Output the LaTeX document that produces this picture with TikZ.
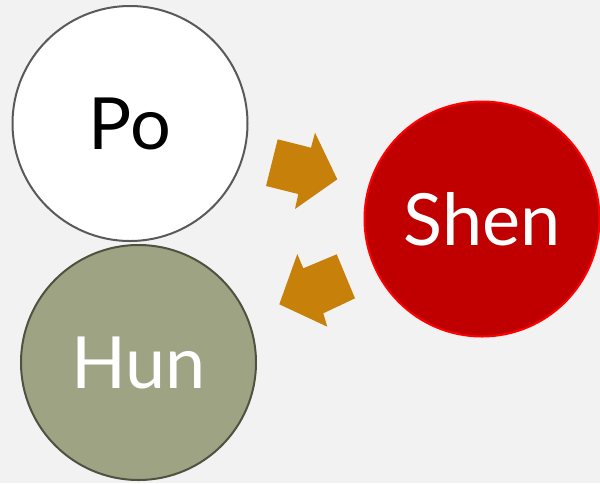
\documentclass[tikz,border=0pt]{standalone}
\usepackage{fontspec}
\setmainfont{Lato}
\definecolor{bg}{RGB}{242,242,242}
\definecolor{poedge}{RGB}{89,89,89}
\definecolor{hunfill}{RGB}{158,163,132}
\definecolor{hunedge}{RGB}{80,82,64}
\definecolor{shenfill}{RGB}{192,0,0}
\definecolor{shenedge}{RGB}{255,0,0}
\definecolor{arrowc}{RGB}{199,128,10}
\tikzset{
  circ/.style={circle, minimum size=235pt, inner sep=0pt, line width=2pt, font=\fontsize{72}{80}\selectfont},
  blockarrow/.style={fill=arrowc, draw=none}
}
\begin{document}
\begin{tikzpicture}[x=1pt,y=-1pt]
\fill[bg] (0,0) rectangle (600,483);
\useasboundingbox (0,0) rectangle (600,483);
\node[circ, draw=poedge, fill=white, text=black] (po) at (130,123.5) {Po};
\node[circ, draw=hunedge, fill=hunfill, text=white] (hun) at (138.5,362.5) {Hun};
\node[circ, draw=shenedge, fill=shenfill, text=white] (shen) at (482,219) {Shen};
\fill[blockarrow] (277.7,139.3) -- (311,147.7) -- (315,132.7) -- (337.3,179.3) -- (295,209) -- (298.3,194) -- (266,186) -- cycle;
\fill[blockarrow] (336.7,254.3) -- (303.3,268.3) -- (297.3,254) -- (279.3,304.3) -- (327.3,326.7) -- (323.3,313.3) -- (355,298.3) -- cycle;
\end{tikzpicture}
\end{document}
